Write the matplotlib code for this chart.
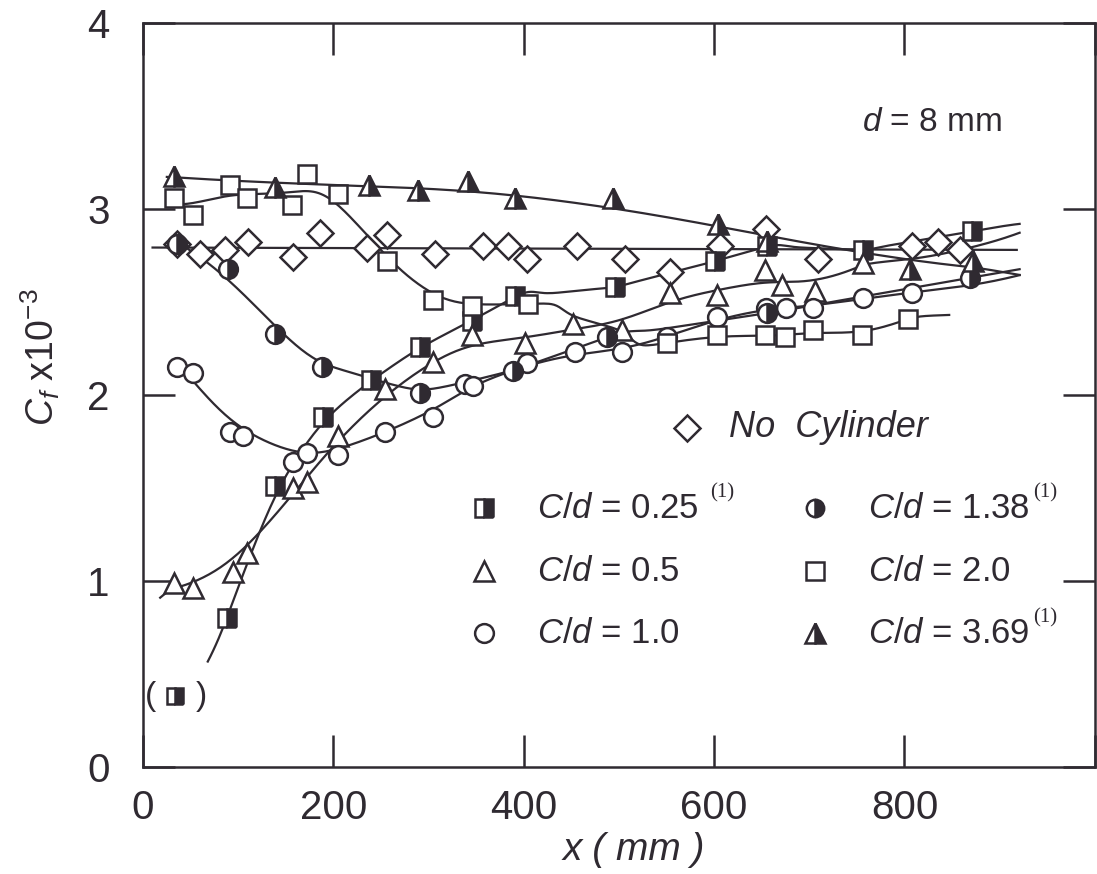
import numpy as np
import matplotlib
matplotlib.use("Agg")
import matplotlib.pyplot as plt

plt.rcParams['font.family'] = ['Liberation Sans', 'DejaVu Sans']
plt.rcParams['mathtext.fontset'] = 'custom'
plt.rcParams['mathtext.it'] = 'Liberation Sans:italic'
plt.rcParams['mathtext.rm'] = 'Liberation Sans'

INK = '#2f2a31'

# Cf x 10^3 против x (мм)
no_cyl_x = [36, 60, 86, 110, 158, 186, 235, 256, 307, 357, 383, 403, 456, 506, 554, 606, 655, 709, 808, 835, 858]
no_cyl_y = [2.81, 2.76, 2.78, 2.82, 2.74, 2.87, 2.79, 2.86, 2.76, 2.80, 2.80, 2.73, 2.80, 2.73, 2.66, 2.80, 2.89, 2.73, 2.80, 2.82, 2.78]

c025_x = [88, 139, 189, 240, 291, 346, 391, 496, 601, 656, 756, 871]
c025_y = [0.80, 1.51, 1.88, 2.08, 2.26, 2.40, 2.53, 2.58, 2.72, 2.80, 2.78, 2.88]
c025_extra_x = [34]     # точка в скобках
c025_extra_y = [0.38]

c05_x = [32, 52, 94, 109, 158, 172, 205, 254, 305, 346, 401, 452, 503, 554, 603, 653, 671, 706, 756]
c05_y = [0.99, 0.96, 1.05, 1.15, 1.50, 1.53, 1.78, 2.03, 2.18, 2.32, 2.28, 2.38, 2.35, 2.55, 2.54, 2.67, 2.59, 2.56, 2.71]

c10_x = [36, 52, 91, 105, 158, 172, 205, 254, 305, 338, 347, 403, 454, 503, 551, 603, 655, 676, 704, 756, 808]
c10_y = [2.15, 2.12, 1.80, 1.78, 1.64, 1.69, 1.68, 1.80, 1.88, 2.06, 2.05, 2.17, 2.23, 2.23, 2.31, 2.42, 2.47, 2.47, 2.47, 2.52, 2.55]

c138_x = [36, 89, 139, 188, 291, 389, 487, 656, 869]
c138_y = [2.81, 2.68, 2.33, 2.15, 2.01, 2.13, 2.31, 2.44, 2.63]

c20_x = [32, 52, 91, 109, 157, 172, 205, 256, 305, 346, 404, 551, 603, 653, 674, 704, 755, 804]
c20_y = [3.06, 2.97, 3.13, 3.06, 3.02, 3.19, 3.08, 2.72, 2.51, 2.48, 2.49, 2.28, 2.32, 2.32, 2.31, 2.35, 2.32, 2.41]

c369_x = [32, 139, 237, 289, 341, 391, 494, 604, 656, 806, 872]
c369_y = [3.18, 3.12, 3.13, 3.10, 3.15, 3.06, 3.06, 2.92, 2.83, 2.68, 2.72]


def smooth(x, y, xs, bw):
    # локальная линейная регрессия с гауссовым весом;
    # за пределами данных окно расширяется, чтобы хвосты не задирались
    x = np.asarray(x, float)
    y = np.asarray(y, float)
    out = []
    for x0 in xs:
        b = bw + max(0.0, x0 - x.max(), x.min() - x0)
        w = np.exp(-0.5 * ((x - x0) / b) ** 2)
        k = np.polyfit(x - x0, y, 1, w=np.sqrt(w))
        out.append(k[1])
    return np.array(out)


fig = plt.figure(figsize=(10.97, 8.74), dpi=100)
ax = fig.add_axes([0.1304, 0.1224, 0.8676, 0.8513])

# (x, y, начало и конец линии, ширина окна, маркер, заливка)
series = [
    (no_cyl_x, no_cyl_y, 10, 918, 5000, 'D', 'none'),
    (c025_x, c025_y, 68, 921, 30, 's', 'right'),
    (c05_x, c05_y, 18, 921, 42, '^', 'none'),
    (c10_x, c10_y, 45, 921, 40, 'o', 'none'),
    (c138_x, c138_y, 36, 921, 45, 'o', 'right'),
    (c20_x, c20_y, 25, 847, 32, 's', 'none'),
    (c369_x, c369_y, 25, 921, 130, '^', 'right'),
]
sizes = {'D': 13, 's': 13.5, 'o': 13.5, '^': 15}

for x, y, x0, x1, bw, m, fs in series:
    xs = np.linspace(x0, x1, 300)
    ax.plot(xs, smooth(x, y, xs, bw), color=INK, lw=1.6, zorder=2)
    if fs == 'none':
        ax.plot(x, y, ls='none', marker=m, ms=sizes[m], mfc='white', mec=INK, mew=1.8, zorder=3)
    else:
        ax.plot(x, y, ls='none', marker=m, ms=sizes[m], fillstyle=fs, mfc=INK, mfcalt='white',
                mec=INK, mew=1.8, zorder=3)

ax.plot(c025_extra_x, c025_extra_y, ls='none', marker='s', ms=12, fillstyle='right',
        mfc=INK, mfcalt='white', mec=INK, mew=1.8, zorder=3)
for dx, s in [(-18, '('), (19, ')')]:
    ax.annotate(s, (c025_extra_x[0], c025_extra_y[0]), xytext=(dx, 0), textcoords='offset points',
                ha='center', va='center', fontsize=24, color=INK)

ax.set_xlim(0, 1000)
ax.set_ylim(0, 4)
ax.set_xticks([0, 200, 400, 600, 800, 1000], labels=['0', '200', '400', '600', '800', ''])
ax.set_yticks([0, 1, 2, 3, 4])
ax.tick_params(which='major', direction='in', length=23, width=1.8, color=INK,
               top=True, right=True, labelsize=29, labelcolor=INK)
ax.tick_params(axis='x', pad=16)
ax.tick_params(axis='y', pad=24)
for sp in ax.spines.values():
    sp.set_linewidth(1.8)
    sp.set_color(INK)

ax.set_xlabel('x ( mm )', fontsize=28, style='italic', color=INK)
ax.xaxis.set_label_coords(0.516, -0.112)
ax.xaxis.label.set_va('center')
ax.set_ylabel(r'$C_f$ x10$^{-3}$', fontsize=27, color=INK)
ax.yaxis.set_label_coords(-0.108, 0.551)
ax.yaxis.label.set_va('center')

ax.text(0.755, 0.866, r'$d$ = 8 mm', transform=ax.transAxes, fontsize=24, va='center', color=INK)

# легенда
tr = ax.transAxes
ax.plot([0.571], [0.456], transform=tr, marker='D', ms=13, mfc='white', mec=INK, mew=1.8, clip_on=False)
ax.text(0.616, 0.456, 'No  Cylinder', transform=tr, fontsize=26, style='italic', va='center', color=INK)

legend_rows = [
    (0.358, 0.348, 's', 'right', '0.25', True),
    (0.358, 0.263, '^', 'none', '0.5', False),
    (0.358, 0.180, 'o', 'none', '1.0', False),
    (0.706, 0.348, 'o', 'right', '1.38', True),
    (0.706, 0.263, 's', 'none', '2.0', False),
    (0.706, 0.180, '^', 'right', '3.69', True),
]
for lx, ly, m, fs, val, note in legend_rows:
    if fs == 'none':
        ax.plot([lx], [ly], transform=tr, marker=m, ms=sizes[m], mfc='white', mec=INK, mew=1.8)
    else:
        ax.plot([lx], [ly], transform=tr, marker=m, ms=sizes[m] - 1, fillstyle=fs, mfc=INK,
                mfcalt='white', mec=INK, mew=1.8)
    t = ax.text(lx + 0.056, ly, r'$C/d$ = ' + val, transform=tr, fontsize=25, va='center', color=INK)
    if note:
        ax.annotate('(1)', xy=(1, 0.95), xycoords=t, xytext=(8 if val == '0.25' else 2, 0),
                    textcoords='offset points', fontsize=15, family='Liberation Serif',
                    va='center', ha='left', color=INK)

fig.savefig('out.png', dpi=100, facecolor='white')
